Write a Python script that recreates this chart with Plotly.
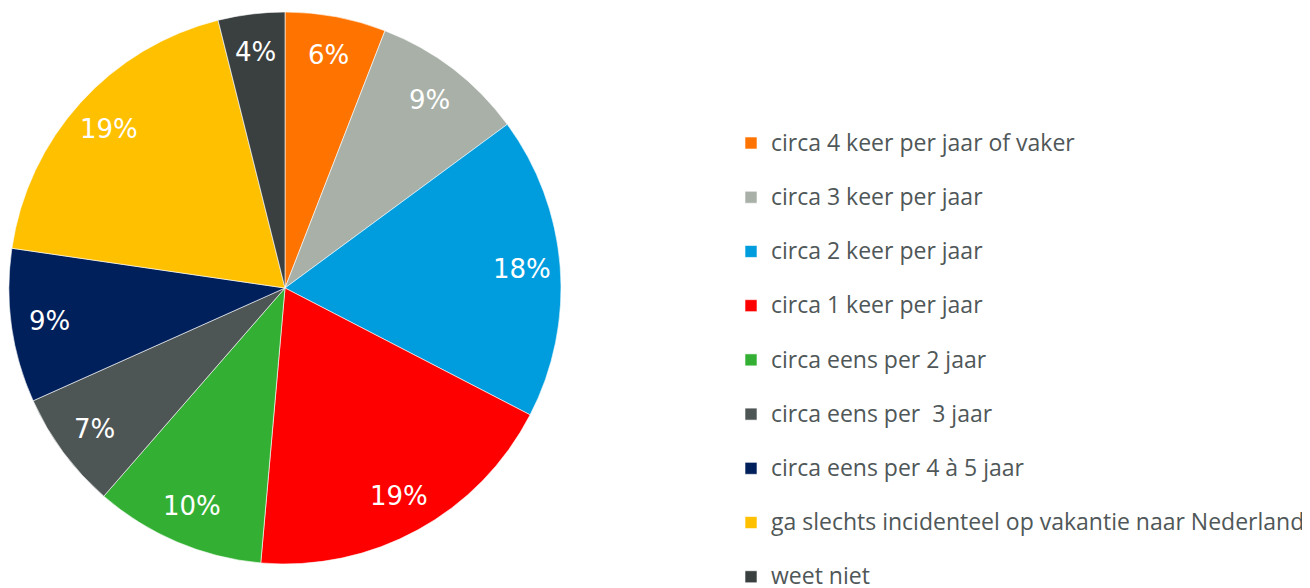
import math
import plotly.graph_objects as go

labels = [
    "circa 4 keer per jaar of vaker",
    "circa 3 keer per jaar",
    "circa 2 keer per jaar",
    "circa 1 keer per jaar",
    "circa eens per 2 jaar",
    "circa eens per  3 jaar",
    "circa eens per 4 à 5 jaar",
    "ga slechts incidenteel op vakantie naar Nederland",
    "weet niet",
]
values = [5.9, 9.0, 17.7, 18.8, 10.0, 6.9, 9.0, 18.8, 3.9]
colors = ["#FF7300", "#A8B0A8", "#009DDE", "#FF0000", "#33B033",
          "#4E5555", "#00205C", "#FFC000", "#3A4040"]

W, H = 1302, 580  # page body has an 8px margin

# pie domain (pixels, figure coords)
px0, px1, py0, py1 = 0, 554, 4, 556
dom_x = [px0 / W, px1 / W]
dom_y = [1 - py1 / H, 1 - py0 / H]
cx = (dom_x[0] + dom_x[1]) / 2
cy = (dom_y[0] + dom_y[1]) / 2
radius = min(px1 - px0, py1 - py0) / 2

# legend: bigger line box (via base font) with smaller visible text
legend_labels = ['<span style="font-size:23px">' + l.replace("  ", "&nbsp; ") + '</span><br> '
                 for l in labels]

fig = go.Figure()

fig.add_trace(go.Pie(
    labels=legend_labels,
    values=values,
    sort=False,
    direction="clockwise",
    rotation=0,
    marker=dict(colors=colors, line=dict(color="white", width=0.6)),
    textinfo="none",
    domain=dict(x=dom_x, y=dom_y),
    hoverinfo="label+percent",
))

# percentage labels placed near the rim, like the original
total = sum(values)
cum = 0
for v in values:
    theta = 2 * math.pi * (cum + v / 2) / total
    cum += v
    fig.add_annotation(
        x=cx + 0.86 * radius * math.sin(theta) / W,
        y=cy + 0.86 * radius * math.cos(theta) / H,
        xref="paper", yref="paper",
        xanchor="center", yanchor="middle",
        text=f"{round(100 * v / total)}%",
        showarrow=False,
        font=dict(family="DejaVu Sans", size=26, color="white"),
    )

fig.update_layout(
    width=W,
    height=H,
    margin=dict(l=0, r=0, t=0, b=0, autoexpand=False),
    paper_bgcolor="white",
    plot_bgcolor="white",
    showlegend=True,
    legend=dict(
        x=723 / W,
        y=1 - 115.7 / H,
        xanchor="left",
        yanchor="top",
        valign="top",
        font=dict(family="Open Sans", size=19.7, color="#4F5758"),
        bgcolor="rgba(0,0,0,0)",
    ),
)

fig.write_html("out.html")
